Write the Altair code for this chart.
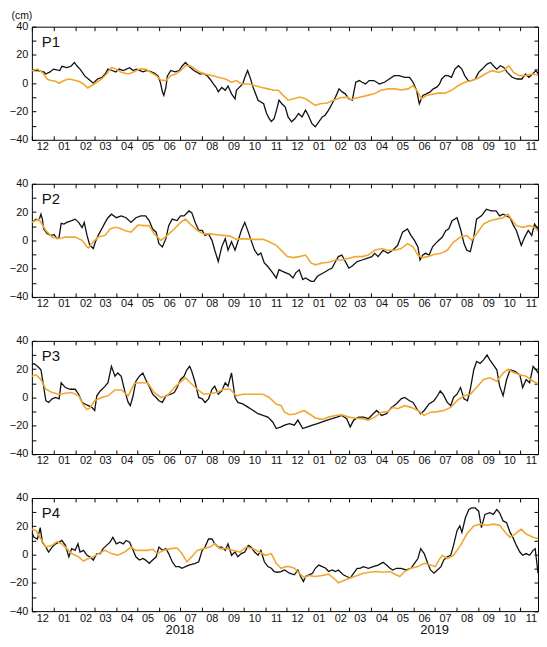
import altair as alt
import pandas as pd

# ---------------- data (days since 2017-12-01, value in cm) ----------------
START = "2017-12-01"

p1_black_day = [0,8,17,20,26,31,40,43,50,56,61,65,69,76,81,88,94,100,105,109,115,120,125,131,140,145,150,159,165,171,176,181,184,187,189,192,194,199,205,211,215,220,225,232,241,246,251,255,260,264,267,272,277,281,286,291,293,295,302,305,309,312,317,324,332,336,340,343,347,351,354,358,363,367,372,377,382,387,392,396,401,406,411,416,420,425,430,435,440,445,449,454,459,464,469,473,478,483,490,498,505,512,519,526,534,541,546,551,555,560,565,570,575,580,584,587,592,596,601,606,611,616,620,625,630,635,640,645,652,657,661,666,671,676,681,688,695,702,707,712,717,722,727]
p1_black_val = [9,9,8,6.5,8,10,9,12,11,12,14.7,12,10,5,3,0,3,4,6.5,10,9,8,10,9,11,9,10,8,9,8,7,5,0.7,-6,-8.6,-3,5,9,8,9,12,14.7,12,9,6.5,7,5.4,3,-0.5,-3,-6,-3,-5,-2,-7.5,-11,-5,-4,-0.5,4,9,5,-3,-12,-14.5,-21,-25,-27,-25,-18,-12,-14.5,-16.8,-23.8,-27.3,-25,-21.4,-23.8,-19,-22.6,-28.4,-30.8,-27.3,-23.8,-22.6,-19,-14.5,-9.8,-4,-6.3,-7.5,-11,-12,0.7,1.9,0.7,-0.5,1.9,1.9,-0.5,0.7,3,5.4,5.4,4.2,4.2,0.7,-5,-14.5,-8.6,-7.5,-6.3,-4,-2.8,-0.5,3,5.4,5.4,4.2,10,12.4,10,5.4,1.9,1.9,3,7.7,10,13.5,14.7,12.4,10,12.4,11.2,7.7,4.2,3,3,6.5,4.2,6.5,8.9,5.4]
p1_orange_day = [0,8,15,22,27,34,39,46,53,60,67,74,80,86,93,100,107,114,121,128,138,145,154,163,170,178,185,192,199,206,213,220,227,234,241,248,258,267,277,286,293,300,310,319,328,338,347,353,360,367,375,384,392,399,406,413,423,432,442,452,457,461,471,481,490,500,510,519,529,539,546,553,558,565,572,582,592,601,611,620,630,640,649,659,669,676,683,690,698,707,717,727]
p1_orange_val = [8.9,10,7.7,3,1.9,1.4,0,1.9,3,2.3,1.4,-0.5,-3.3,-1.6,0.7,3,6.5,11.2,10,7.7,6.5,7.7,10,10,7.7,5.4,2.3,1.9,5.4,6.5,8.9,12.4,12.4,10,7.7,6.5,5.4,4.2,3,0.7,1.9,-0.5,-0.5,-1.6,-2.8,-4,-5,-5,-8.6,-12,-11,-9.8,-11,-13.3,-15.6,-14.5,-14,-12,-10.3,-9.8,-11.6,-11,-9.8,-8.6,-7.5,-5,-4,-4,-4.7,-4,-1.6,-6.3,-11,-8.6,-8,-7,-7,-5,-1.6,0.7,1.9,3.7,6.5,8.9,7.7,8.9,12.4,7.7,5.4,5.4,6.5,5.4]

p2_black_day = [0,6,10,13,15,17,22,27,32,36,39,42,46,50,57,62,67,72,75,79,83,88,91,95,100,105,109,114,121,128,135,142,149,156,163,168,173,178,182,187,192,196,201,208,213,218,225,229,234,239,244,248,253,258,262,267,272,277,281,286,291,295,300,305,310,314,319,324,328,333,338,345,350,354,359,364,369,374,378,383,388,392,400,404,409,414,421,425,430,435,439,444,449,454,458,466,473,480,487,491,496,503,510,517,524,531,538,543,548,553,556,560,564,569,574,578,583,588,593,597,602,609,614,619,623,628,633,637,644,651,658,665,670,675,680,685,690,694,701,706,711,716,720,725,727]
p2_black_val = [12.7,15,14,18.5,15,8,4.6,3.5,4,1.2,2.3,12,11.5,12.7,14,15,12.7,9,12.7,3.5,-3.5,-5.8,-1,3.5,8,12.7,16,18.5,16,17.3,16,12.7,16,17.3,17.3,14,8,5.8,-2.3,-4.6,1.2,10.4,15,14,17.3,17.3,20.8,19.6,12.7,7,7,3.5,4.6,0,-7,-15,-4.6,1.2,-7,-1,-7,-1,7,12.7,5.8,0,-7,-10.4,-9,-16,-18.5,-23,-26.6,-20.8,-22,-23,-24,-26.6,-23,-20.8,-27.7,-26.6,-29,-29,-25.4,-24,-22,-20.8,-19.6,-15,-11.5,-10.4,-15,-19.6,-18.5,-15,-13.9,-12.7,-11.5,-9.2,-11.5,-7,-9.2,-7,-3.5,5.8,8,3.5,0,-4.6,-13.9,-10.4,-9.2,-10.4,-4.6,-2.3,0,2.3,7,8,13.9,16,8,-2.3,-7,-8,2.3,15,17.3,22,20.8,20.8,17.3,18.5,17.3,16,10.4,7,-3.5,2.3,7,3.5,11.5,8,9]
p2_orange_day = [0,10,20,29,39,48,62,72,79,81,88,95,105,112,119,126,133,142,152,161,168,175,185,194,204,213,220,227,237,246,255,265,274,284,293,302,317,331,340,350,359,366,374,383,392,400,406,416,425,435,444,454,463,473,482,491,501,510,520,529,538,546,553,560,567,576,586,595,604,614,623,630,637,647,656,666,675,682,687,694,703,713,720,727]
p2_orange_val = [12.7,15,7,2.3,1.2,2.3,2.3,0,-4.6,-5.3,-1,2.3,3.5,8,9.2,8.5,7,5.8,10.8,10.4,10.4,4.6,0,3.5,8,12.7,15,11.5,7,4.6,4.6,4,3.5,3,0.7,1.2,0.7,0.7,-1,-3.5,-8,-11.5,-12.2,-11.5,-10.4,-16,-17.3,-16,-15.5,-13.9,-13.9,-12.7,-11.5,-11.5,-10.4,-7,-5.8,-7,-7,-5.8,-2.3,-4.6,-10.4,-12.2,-11.5,-10,-9.2,-7,-1.2,2.3,3.5,0,4.6,11.5,13.9,15,16,18.5,15,10.4,9.2,10.4,9.2,5.8]

p3_black_day = [0,3,8,13,16,20,24,29,34,39,42,48,55,62,67,72,76,81,86,90,93,98,105,109,114,119,123,128,133,138,141,145,149,154,159,163,168,173,178,182,187,192,199,204,208,213,218,222,226,229,234,239,244,248,253,258,262,267,272,277,281,286,291,295,302,310,317,324,331,338,345,350,357,362,369,376,381,388,395,402,409,416,423,430,437,444,451,456,461,468,475,482,489,494,501,508,515,522,529,534,541,546,553,557,562,569,576,581,585,589,595,600,604,609,614,619,624,628,633,637,642,647,652,656,661,666,670,675,680,685,692,699,703,708,713,718,722,727]
p3_black_val = [23,24,22,19.6,10.4,-2.3,-3.5,-1,0,-1,10.4,7,5.8,5.8,2.3,-3.5,-4.6,-5.8,-7,-9.2,1.2,4.6,8,10.4,22,15,17.3,15,4.6,-3.5,-5.8,1.2,11.5,15,17.3,12.7,8,2.3,0,-2.3,-3.5,1.2,2.3,3.5,7,12.7,15,19.6,22,18.5,10.4,0,-1,-3.5,-1,5.8,8,2.3,4.6,10.4,8,17.3,0,-3.5,-4.6,-7,-9.2,-11.5,-12.7,-13.9,-17.3,-22,-20.8,-19.6,-18.5,-19.6,-16,-22,-20.8,-19.6,-18.5,-17.3,-16,-15,-13.9,-12.7,-15,-20.8,-16,-13.9,-13.9,-15,-11.5,-9.2,-12.7,-11.5,-7,-4.6,-1,0,-2.3,-3.5,-9.2,-11.5,-9.2,-4.6,-2.3,1.2,4.6,2.3,-3.5,-5.8,0,2.3,7,-1,-2.3,5.8,19.6,25.4,24,26.6,30,26.6,23,19.6,8,1.2,12.7,19.6,18.5,16,7,12.7,10.4,22,19.6,16]
p3_orange_day = [0,6,13,20,29,39,48,57,67,74,79,83,90,100,109,119,128,138,147,156,166,175,185,194,204,213,220,227,237,246,255,265,274,284,293,302,317,331,340,350,357,362,369,378,390,397,406,416,425,435,444,454,463,473,482,491,501,510,517,524,534,543,553,562,571,581,590,600,609,619,628,637,647,656,666,675,682,689,699,708,718,727]
p3_orange_val = [15,16,12.7,5.8,3.5,2.3,3,3.5,1.2,-5.8,-8.5,-7.6,-2.3,0,1.2,5.3,5.3,1.2,10,10.4,10.4,3.5,0,1.2,7,11,13.9,10.4,5.8,2.3,2.8,3.5,5.8,5.8,1.2,2.3,2.3,2.3,0,-4.6,-5.8,-10.4,-12.2,-11.5,-9.2,-11.5,-14.5,-15.5,-13.9,-12.7,-12.2,-13.9,-14.5,-15,-16,-13.9,-10.4,-10,-7,-8,-5.8,-7,-9.2,-12.7,-10.4,-10,-9.2,-7,-2.3,1.2,2.3,7,12.7,13.9,11.5,17.3,20,17.8,16,15,11.5,9.2]

p4_black_day = [0,3,8,12,15,20,24,29,34,39,43,48,53,57,62,66,69,74,79,83,88,93,98,102,107,112,116,121,126,131,135,140,145,149,154,159,163,168,173,178,182,187,192,196,201,206,211,215,220,225,229,234,239,244,248,253,258,262,267,272,277,281,286,291,295,300,305,310,314,319,324,328,333,338,343,347,352,357,362,369,376,381,385,389,392,397,402,406,411,416,421,425,430,435,439,446,451,456,461,466,470,475,482,489,496,503,508,513,517,522,529,536,543,548,553,557,562,567,571,576,581,586,590,595,600,604,609,613,616,621,626,630,635,640,644,649,656,661,666,670,675,680,685,689,694,699,703,708,713,718,721,725,727]
p4_black_val = [15.7,12.2,11,19,8.8,5.3,1.8,5.3,7.6,8.8,10,6.5,-1.6,4.2,3,7.6,1.8,3,-0.5,-1.6,-3.9,0.7,0.7,4.2,6.5,8.8,12.2,7.6,8.8,7.6,10,8.8,3,-1.6,-3.9,-2.8,-3.9,-6.2,-3.9,-1.6,5.3,3,4.2,0.7,-5.1,-8.5,-8.5,-9.7,-8.5,-7.4,-6.9,-6.2,-5.1,3,5.3,11,11,7.6,5.3,5.3,3,7.6,-0.5,1.8,-1.6,0.7,1.8,6.5,5.3,1.8,-0.5,3,-5.1,-8.5,-9.7,-12,-12.5,-12,-10.9,-13.2,-14.3,-10.9,-15.5,-19,-15.5,-14.3,-13.2,-9.7,-7.4,-8.5,-9.7,-12,-10.9,-12,-10.9,-14.3,-15.5,-16.6,-13.2,-9.7,-9.7,-8.5,-9.7,-8.5,-7.4,-5.5,-7.4,-9.7,-10.9,-9.7,-9.7,-10.9,-9.7,-6.2,-2.8,4.2,0.7,-6.2,-10.9,-13.2,-10.9,-8.5,-3.9,-1.6,-0.5,6.5,16.9,20.3,15.7,26,31.9,33,33,30.7,19,28.4,29.6,28.4,31.9,29.6,23.8,22.6,15.7,12.2,6.5,1.8,-0.5,0.7,-0.5,3,4.2,-13.2,-2.8]
p4_orange_day = [0,6,13,20,29,36,43,50,57,67,74,81,88,95,105,114,123,133,142,149,156,166,173,180,189,199,208,215,222,229,237,246,255,262,269,279,288,298,307,317,326,335,343,350,357,364,369,376,383,390,397,406,416,425,435,439,446,456,466,475,484,494,503,513,520,527,534,543,553,562,571,578,583,588,595,604,614,623,633,642,652,661,670,680,685,692,701,708,718,727]
p4_orange_val = [18,16.9,11,5.3,6.5,9.2,7.6,4.2,0.7,-1.6,-4.6,-2.8,-1.6,0.7,3,0.7,-0.5,1.8,5.3,3,3,3,3.7,0.7,3,4.2,4.6,0.7,-5.1,-1.6,3,4.2,5.3,7.6,4.2,4.2,3,1.8,5.3,4.2,1.8,-0.5,0.7,-6.2,-9.7,-8.5,-8.5,-9.7,-13.2,-16.2,-14.8,-15.5,-14.8,-13.9,-17.8,-20,-18.5,-16.6,-14.8,-13.2,-12.5,-12,-12.5,-12,-13.9,-15.5,-12,-9.7,-8.5,-6.2,-7.4,-8.5,-3.9,-0.5,-2.8,-0.5,6.5,14.5,20.3,21.5,20.8,21.5,20.8,14.5,12.2,14.5,18,14.5,12.2,11]

panel_names = ["P1", "P2", "P3", "P4"]
month_ticks = [(2017, 12)] + [(2018, m) for m in range(1, 13)] + [(2019, m) for m in range(1, 12)]
y_ticks = [-40, -30, -20, -10, 0, 10, 20, 30, 40]
year_labels = ["2018", "2019"]
year_label_dates = ["2018-07-01T00:00:00", "2019-07-01T00:00:00"]

# ---------------- styling ----------------
FONT = "Liberation Sans"
ORANGE = "#F0A830"
BLACK = "#111111"
W, H = 509, 113.75
SPACING = 44


def make_df(days, vals):
    base = pd.Timestamp(START)
    dates = [(base + pd.Timedelta(days=d)).strftime("%Y-%m-%dT%H:%M:%S") for d in days]
    return pd.DataFrame({"date": dates, "value": vals})


month_values = [alt.DateTime(year=y, month=m, date=1) for (y, m) in month_ticks]
xscale = alt.Scale(domain=[alt.DateTime(year=2017, month=12, date=1),
                           alt.DateTime(year=2019, month=11, date=26)])
yscale = alt.Scale(domain=[-40, 40], nice=False, zero=False)


def panel(name, bd, bv, od, ov, first=False, last=False):
    if first:
        ytitle = dict(title="(cm)", titleAngle=0, titleX=-25, titleY=-16,
                      titleAlign="left", titleBaseline="top",
                      titleFontWeight="normal", titleFontSize=10.5, titleFont=FONT,
                      titleColor=BLACK, titlePadding=0)
    else:
        ytitle = dict(title=None)
    y_left = alt.Axis(orient="left", values=y_ticks,
                      labelExpr="datum.value % 20 === 0 ? datum.label : ''",
                      tickSize=4, offset=-4, labelPadding=4, domain=False, grid=False,
                      labelFlush=False, labelOverlap=False, **ytitle)
    y_right = alt.Axis(orient="right", values=y_ticks, labels=False, tickSize=4,
                       offset=-4, domain=False, grid=False, title=None)
    x_bottom = alt.Axis(orient="bottom", values=month_values, format="%m",
                        labelOffset=10.4, tickSize=4, offset=-4, labelPadding=1,
                        domain=False, grid=False, labelFlush=False,
                        labelOverlap=False, title=None)
    x_top = alt.Axis(orient="top", values=month_values, labels=False, tickSize=4,
                     offset=-4, domain=False, grid=False, title=None)

    black = alt.Chart(make_df(bd, bv)).mark_line(
        color=BLACK, strokeWidth=1.3, clip=True
    ).encode(
        x=alt.X("date:T", scale=xscale, axis=x_bottom),
        y=alt.Y("value:Q", scale=yscale, axis=y_left),
    )
    orange = alt.Chart(make_df(od, ov)).mark_line(
        color=ORANGE, strokeWidth=1.6, clip=True
    ).encode(
        x=alt.X("date:T", scale=xscale, axis=x_top),
        y=alt.Y("value:Q", scale=yscale, axis=y_right),
    )
    label = alt.Chart(pd.DataFrame({"t": [name]})).mark_text(
        align="left", baseline="alphabetic", fontSize=15, font=FONT, color=BLACK
    ).encode(x=alt.value(10), y=alt.value(20), text="t:N")

    layers = [black, orange, label]
    if last:
        ydf = pd.DataFrame({"date": year_label_dates, "label": year_labels})
        years = alt.Chart(ydf).mark_text(
            baseline="middle", align="center", fontSize=13, font=FONT, color=BLACK
        ).encode(
            x=alt.X("date:T", scale=xscale, axis=None),
            y=alt.value(H + 19.5),
            text="label:N",
        )
        layers.append(years)
    return alt.layer(*layers).resolve_axis(x="independent", y="independent").properties(
        width=W, height=H
    )


p1 = panel("P1", p1_black_day, p1_black_val, p1_orange_day, p1_orange_val, first=True)
p2 = panel("P2", p2_black_day, p2_black_val, p2_orange_day, p2_orange_val)
p3 = panel("P3", p3_black_day, p3_black_val, p3_orange_day, p3_orange_val)
p4 = panel("P4", p4_black_day, p4_black_val, p4_orange_day, p4_orange_val, last=True)

chart = alt.vconcat(p1, p2, p3, p4, spacing=SPACING, bounds="flush").properties(
    padding={"left": 0, "top": 0, "right": 0, "bottom": 0}
).configure_view(
    stroke="#000000", strokeWidth=1
).configure_axis(
    tickColor="#000000", tickWidth=1, labelColor=BLACK, labelFont=FONT,
    labelFontSize=11
)

chart.save("out.html", embed_options={"renderer": "svg", "actions": False})
